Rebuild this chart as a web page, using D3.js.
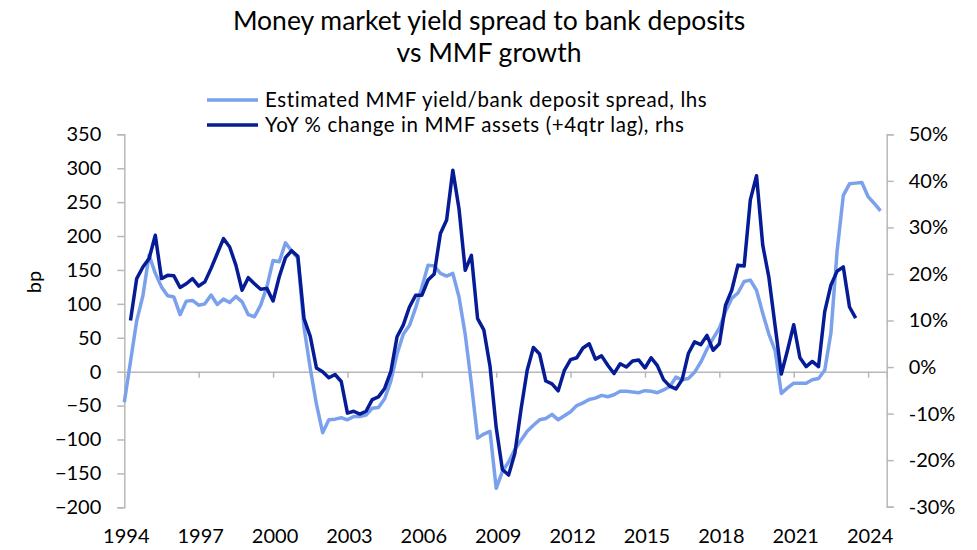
<!DOCTYPE html>
<html>
<head>
<meta charset="utf-8">
<script src="https://cdn.jsdelivr.net/npm/d3@7"></script>
<style>
  html, body { margin: 0; padding: 0; background: #fff; }
  svg { display: block; font-family: Lato, "Open Sans", sans-serif; }
</style>
</head>
<body>
<svg id="chart" width="977" height="550"></svg>
<script>
// Quarterly observations, first quarter of the spread series is 1994 Q1
const startYear = 1994;

// Estimated MMF yield / bank deposit spread (bp, left axis), 1994 Q1 onward
const spreadBp = [
  -45, 15, 75, 112,
  172, 145, 125, 112,
  110, 84, 104, 105,
  98, 100, 113, 99,
  107, 102, 111, 103,
  84, 81, 98, 125,
  164, 162, 190, 178,
  167, 65, 5, -48,
  -90, -71, -70, -68,
  -71, -66, -66, -64,
  -54, -53, -40, -14,
  26, 55, 68, 94,
  124, 157, 156, 145,
  141, 145, 110, 55,
  -18, -98, -92, -88,
  -172, -147, -133, -115,
  -101, -88, -79, -71,
  -69, -63, -71, -65,
  -59, -50, -46, -41,
  -39, -35, -37, -34,
  -29, -29, -30, -31,
  -28, -29, -31, -27,
  -22, -8, -12, -10,
  -1, 14, 33, 49,
  64, 89, 108, 116,
  133, 135, 120, 86,
  55, 31, -32, -24,
  -17, -17, -17, -12,
  -10, 2, 57, 178,
  260, 277, 278, 279,
  258, 248, 237
];

// YoY % change in MMF assets (+4 quarter lag, right axis), 1994 Q2 onward
const mmfStartIndex = 1;
const mmfGrowthPct = [
  10.0, 19.0, 21.5,
  23.3, 28.3, 19.0, 19.7,
  19.6, 17.1, 17.9, 19.0,
  17.4, 18.3, 21.2, 24.4,
  27.6, 25.8, 21.9, 16.5,
  19.2, 17.9, 16.7, 16.9,
  14.2, 19.4, 23.5, 25.0,
  23.8, 10.4, 6.6, -0.2,
  -1.0, -2.3, -1.6, -3.1,
  -9.9, -9.5, -10.1, -9.5,
  -7.0, -6.4, -4.6, -1.0,
  6.5, 9.0, 12.9, 15.4,
  15.4, 18.7, 20.0, 28.7,
  31.6, 42.3, 34.0, 20.8,
  24.0, 10.4, 8.0, 0.2,
  -13.0, -22.0, -23.2, -18.6,
  -9.1, -0.7, 4.2, 2.8,
  -3.0, -3.6, -5.1, -0.7,
  1.6, 2.0, 4.1, 5.0,
  1.7, 2.4, 0.4, -1.4,
  0.7, 0.0, 1.3, 1.5,
  -0.2, 2.0, 0.3, -2.7,
  -4.1, -4.7, -2.7, 2.9,
  5.4, 4.8, 6.8, 3.6,
  5.0, 13.3, 16.5, 21.9,
  21.7, 35.9, 41.1, 26.2,
  19.2, 8.8, -1.5, 3.6,
  9.1, 2.0, 0.1, 1.2,
  0.1, 11.9, 17.6, 20.6,
  21.5, 12.9, 10.5
];

const yearTicks = [1994, 1997, 2000, 2003, 2006, 2009, 2012, 2015, 2018, 2021, 2024];
const leftTicks = [-200, -150, -100, -50, 0, 50, 100, 150, 200, 250, 300, 350];
const rightTicks = [-30, -20, -10, 0, 10, 20, 30, 40, 50];

const titleLines = ["Money market yield spread to bank deposits", "vs MMF growth"];
const seriesNames = ["Estimated MMF yield/bank deposit spread, lhs", "YoY % change in MMF assets (+4qtr lag), rhs"];
const leftAxisTitle = "bp";

const lightBlue = "#7BA1EC";
const darkBlue = "#061B96";
const axisGrey = "#B8B8B8";
const textColor = "#000";

const svg = d3.select("#chart");

// time position of a quarter index (0 = 1994 Q1)
const quarterTime = i => startYear + i / 4;

const x = d3.scaleLinear().domain([1994, 2024.75]).range([124.3, 886.7]);
const yL = d3.scaleLinear().domain([-200, 350]).range([507.3, 134.3]);
const yR = d3.scaleLinear().domain([-30, 50]).range([506.7, 134.3]);

// Title
svg.append("g").selectAll("text").data(titleLines).join("text")
  .attr("x", 489).attr("y", (d, i) => 30 + i * 32)
  .attr("text-anchor", "middle")
  .attr("font-size", 26.5)
  .attr("fill", textColor)
  .text(d => d);

// Legend
const legend = svg.append("g");
[lightBlue, darkBlue].forEach((c, i) => {
  const ly = 100 + i * 25;
  legend.append("line").attr("x1", 207).attr("x2", 258).attr("y1", ly).attr("y2", ly)
    .attr("stroke", c).attr("stroke-width", 3.5);
  legend.append("text").attr("x", 265).attr("y", ly + 7)
    .attr("font-size", 20.5).attr("letter-spacing", 0.6)
    .attr("fill", textColor).text(seriesNames[i]);
});

// Left axis
const gL = svg.append("g").attr("transform", `translate(${x.range()[0]},0)`)
  .call(d3.axisLeft(yL).tickValues(leftTicks).tickSize(7).tickPadding(16).tickFormat(d3.format("d")));
gL.selectAll("text").attr("font-size", 20).attr("font-family", "Lato, sans-serif").attr("fill", textColor);

// Right axis
const gR = svg.append("g").attr("transform", `translate(${x.range()[1]},0)`)
  .call(d3.axisRight(yR).tickValues(rightTicks).tickSize(7).tickPadding(15).tickFormat(d => d + "%"));
gR.selectAll("text").attr("font-size", 20).attr("font-family", "Lato, sans-serif").attr("fill", textColor);

[gL, gR].forEach(g => {
  g.select(".domain").attr("stroke", axisGrey).attr("stroke-width", 1.5);
  g.selectAll(".tick line").attr("stroke", axisGrey).attr("stroke-width", 1.5);
});

// Horizontal category axis along the zero line, labels at the bottom
const gX = svg.append("g").attr("transform", `translate(0,${yL(0)})`)
  .call(d3.axisBottom(x).tickValues(yearTicks.slice(1)).tickSize(6).tickFormat(""));
gX.select(".domain").attr("stroke", axisGrey).attr("stroke-width", 1.5);
gX.selectAll(".tick line").attr("stroke", axisGrey).attr("stroke-width", 1.5);

svg.append("g").selectAll("text").data(yearTicks).join("text")
  .attr("x", d => x(d) + 2).attr("y", 543)
  .attr("text-anchor", "middle").attr("font-size", 20).attr("fill", textColor)
  .text(d => d);

// Left axis title
svg.append("text")
  .attr("transform", `translate(41,282) rotate(-90)`)
  .attr("text-anchor", "middle").attr("font-size", 20).attr("fill", textColor)
  .text(leftAxisTitle);

// Series lines
const spreadLine = d3.line()
  .x((d, i) => x(quarterTime(i)))
  .y(d => yL(d));
const growthLine = d3.line()
  .x((d, i) => x(quarterTime(i + mmfStartIndex)))
  .y(d => yR(d));

svg.append("path").datum(spreadBp)
  .attr("fill", "none").attr("stroke", lightBlue).attr("stroke-width", 3.5)
  .attr("stroke-linejoin", "round").attr("d", spreadLine);
svg.append("path").datum(mmfGrowthPct)
  .attr("fill", "none").attr("stroke", darkBlue).attr("stroke-width", 3.5)
  .attr("stroke-linejoin", "round").attr("d", growthLine);
</script>
</body>
</html>
